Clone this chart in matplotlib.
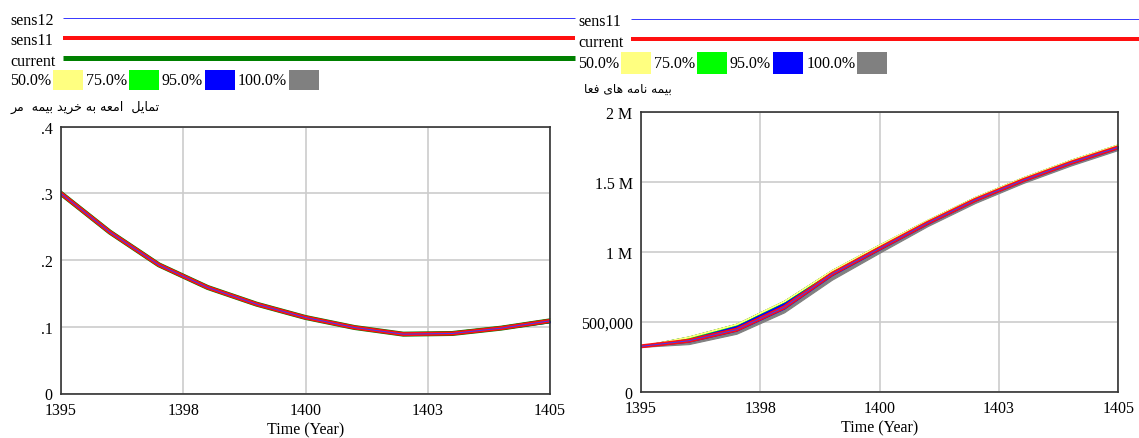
import matplotlib.pyplot as plt
from matplotlib.patches import Rectangle

# Vensim sensitivity output, two panels

years = [1395, 1396, 1397, 1398, 1399, 1400, 1401, 1402, 1403, 1404, 1405]
x_ticks = [1395, 1397.5, 1400, 1402.5, 1405]
x_ticklabels = ["1395", "1398", "1400", "1403", "1405"]

# left panel: تمایل جامعه به خرید بیمه عمر
tam_current = [0.300, 0.242, 0.193, 0.159, 0.134, 0.114, 0.099, 0.089, 0.090, 0.098, 0.109]
tam_sens11 = [0.300, 0.242, 0.193, 0.159, 0.134, 0.114, 0.099, 0.089, 0.090, 0.098, 0.109]
tam_sens12 = [0.300, 0.242, 0.193, 0.159, 0.134, 0.114, 0.099, 0.089, 0.090, 0.098, 0.109]
tam_100 = ([0.299, 0.241, 0.192, 0.158, 0.133, 0.113, 0.098, 0.088, 0.089, 0.097, 0.107],
           [0.301, 0.244, 0.195, 0.161, 0.136, 0.116, 0.101, 0.091, 0.093, 0.101, 0.112])
tam_95 = ([0.299, 0.241, 0.192, 0.158, 0.133, 0.113, 0.098, 0.088, 0.089, 0.097, 0.107],
          [0.301, 0.244, 0.195, 0.161, 0.136, 0.116, 0.101, 0.091, 0.092, 0.100, 0.111])
tam_75 = ([0.300, 0.242, 0.193, 0.159, 0.134, 0.114, 0.099, 0.089, 0.090, 0.099, 0.110],
          [0.301, 0.244, 0.195, 0.161, 0.136, 0.116, 0.101, 0.091, 0.093, 0.101, 0.112])
tam_50 = ([0.300, 0.243, 0.194, 0.160, 0.135, 0.115, 0.100, 0.090, 0.091, 0.100, 0.111],
          [0.301, 0.244, 0.195, 0.161, 0.136, 0.116, 0.101, 0.091, 0.093, 0.101, 0.112])
tam_yticks = [0, 0.1, 0.2, 0.3, 0.4]
tam_ylabels = ["0", ".1", ".2", ".3", ".4"]

# right panel: بیمه نامه های فعال
pol_current = [324e3, 364e3, 443e3, 603e3, 841e3, 1024e3, 1205e3, 1370e3, 1510e3, 1635e3, 1746e3]
pol_sens11 = [324e3, 364e3, 443e3, 603e3, 841e3, 1024e3, 1205e3, 1370e3, 1510e3, 1635e3, 1746e3]
pol_100 = ([320e3, 340e3, 414e3, 567e3, 800e3, 993e3, 1182e3, 1348e3, 1490e3, 1615e3, 1727e3],
           [327e3, 395e3, 486e3, 651e3, 870e3, 1053e3, 1228e3, 1392e3, 1532e3, 1657e3, 1768e3])
pol_95 = ([322e3, 358e3, 436e3, 594e3, 832e3, 1016e3, 1198e3, 1364e3, 1504e3, 1629e3, 1740e3],
          [327e3, 393e3, 484e3, 649e3, 868e3, 1051e3, 1226e3, 1390e3, 1530e3, 1655e3, 1766e3])
pol_75 = ([324e3, 385e3, 478e3, 643e3, 862e3, 1045e3, 1221e3, 1385e3, 1525e3, 1650e3, 1761e3],
          [327e3, 394e3, 485e3, 650e3, 869e3, 1052e3, 1227e3, 1391e3, 1531e3, 1656e3, 1767e3])
pol_50 = ([325e3, 390e3, 482e3, 647e3, 866e3, 1049e3, 1225e3, 1389e3, 1529e3, 1654e3, 1765e3],
          [327e3, 395e3, 486e3, 651e3, 870e3, 1053e3, 1228e3, 1392e3, 1532e3, 1657e3, 1768e3])
pol_yticks = [0, 500e3, 1e6, 1.5e6, 2e6]
pol_ylabels = ["0", "500,000", "1 M", "1.5 M", "2 M"]

band_names = ["50.0%", "75.0%", "95.0%", "100.0%"]
band_colors = ["#ffff80", "#00ff00", "#0000ff", "#808080"]

# titles written in visual order with arabic presentation forms
# (matplotlib does no shaping / bidi)
title_left = ("\uFEAE\uFEE3  \uFEEA\uFEE4\uFBFF\uFE91 \uFEAA\uFBFE\uFEAE\uFEA7 "
              "\uFEEA\uFE91 \uFEEA\uFECC\uFEE3\uFE8D  \uFEDE\uFBFE\uFE8E\uFEE4\uFE97")
title_right = ("\uFE8E\uFECC\uFED3 \uFBFC\uFE8E\uFEEB "
               "\uFEEA\uFEE3\uFE8E\uFEE7 \uFEEA\uFEE4\uFBFF\uFE91")

W, H = 1139, 439
plt.rcParams["font.family"] = ["Liberation Serif", "DejaVu Sans"]
fig = plt.figure(figsize=(W / 100, H / 100), dpi=100)

# overlay in pixel coords for the legend rows
lg = fig.add_axes([0, 0, 1, 1])
lg.set_xlim(0, W)
lg.set_ylim(H, 0)
lg.axis("off")
lg.patch.set_alpha(0)

fs = 11.5
px = 0.72  # points per pixel


def legend_block(x0, x_line, lines, y_row, sw_x, txt_x):
    for (name, color, lw, y_line, y_txt) in lines:
        lg.text(x0, y_txt, name, fontsize=fs, va="center", ha="left")
        lg.plot([x_line[0], x_line[1]], [y_line, y_line], color=color,
                lw=lw * px, solid_capstyle="butt")
    for name, color, sx, tx in zip(band_names, band_colors, sw_x, txt_x):
        lg.text(tx, y_row[2], name, fontsize=fs, va="center", ha="left")
        lg.add_patch(Rectangle((sx, y_row[0]), 30, y_row[1] - y_row[0],
                               facecolor=color, edgecolor="none"))


legend_block(10, (63, 575),
             [("sens12", "#3c3cff", 1, 19, 21),
              ("sens11", "#ff1010", 4, 39, 41),
              ("current", "#008000", 5, 59, 62)],
             (71, 91, 81), [53, 129, 205, 289], [10, 86, 162, 238])
legend_block(578, (631, 1139),
             [("sens11", "#3c3cff", 1, 19.5, 22),
              ("current", "#ff1010", 4, 40, 43)],
             (53, 75, 64), [621, 697, 773, 857], [578, 654, 730, 807])

lg.text(160, 107, title_left, fontsize=9.1, family="DejaVu Sans",
        ha="right", va="center")
lg.text(672, 89, title_right, fontsize=8.8, family="DejaVu Sans",
        ha="right", va="center")


def panel(rect, bands, series, yticks, ylabels, ymax):
    ax = fig.add_axes(rect)
    for (lo, hi), color in zip(bands[::-1], band_colors[::-1]):
        ax.fill_between(years, lo, hi, color=color, lw=0.8, edgecolor=color)
    for vals, color, lw in series:
        ax.plot(years, vals, color=color, lw=lw * px)
    ax.set_xlim(1395, 1405)
    ax.set_ylim(0, ymax)
    ax.set_xticks(x_ticks)
    ax.set_xticklabels(x_ticklabels)
    ax.set_yticks(yticks)
    ax.set_yticklabels(ylabels)
    ax.grid(color="#cccccc", lw=1.2)
    ax.set_axisbelow(True)
    ax.tick_params(length=0, labelsize=fs, pad=6)
    for s in ax.spines.values():
        s.set_color("#333333")
        s.set_linewidth(1.2)
    ax.set_xlabel("Time (Year)", fontsize=fs, labelpad=2.5)
    return ax


panel([61 / W, 1 - 394.5 / H, 489 / W, 266.7 / H],
      [tam_50, tam_75, tam_95, tam_100],
      [(tam_current, "#008000", 5), (tam_sens11, "#ff1010", 4), (tam_sens12, "#3c3cff", 1)],
      tam_yticks, tam_ylabels, 0.4)

panel([641 / W, 1 - 392.7 / H, 477.3 / W, 280 / H],
      [pol_50, pol_75, pol_95, pol_100],
      [(pol_current, "#ff1010", 4), (pol_sens11, "#3c3cff", 1)],
      pol_yticks, pol_ylabels, 2e6)

plt.savefig("out.png", dpi=100)
